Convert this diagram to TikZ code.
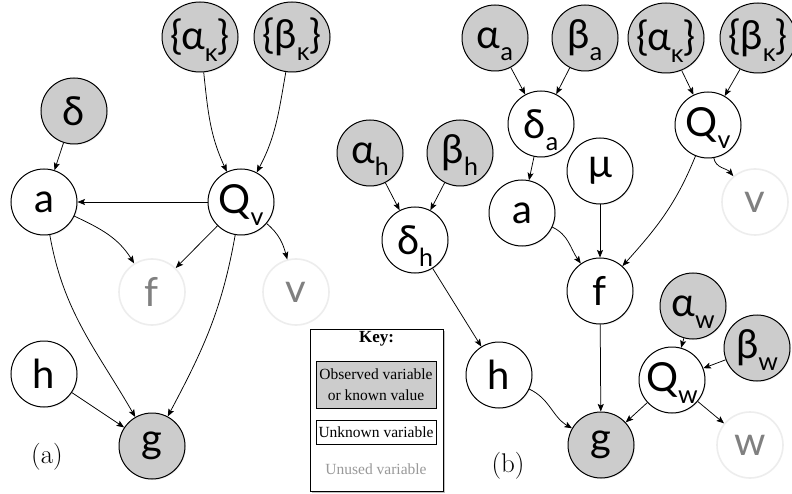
\documentclass[tikz,border=0pt]{standalone}
\usepackage{fontspec}
\newfontfamily\nodefont{Lato}
\newfontfamily\keyfont{Liberation Serif}
\usetikzlibrary{arrows.meta,shadows,shapes.geometric}
\newcommand\lsub[1]{\smash{\raisebox{-0.3em}{\fontsize{25}{25}\selectfont #1}}}
\begin{document}
\begin{tikzpicture}[x=1pt,y=1pt,
  nodetext/.style={font=\nodefont\fontsize{40}{40}\selectfont},
  var/.style={circle, draw, line width=1pt, minimum size=66pt, inner sep=0pt, fill=white, nodetext,
    drop shadow={opacity=0.15, shadow xshift=1pt, shadow yshift=-1pt}},
  obs/.style={var, fill=black!20},
  obsset/.style={obs, ellipse, minimum width=76pt, minimum height=70pt},
  unused/.style={circle, draw=black!7, line width=1.6pt, minimum size=66pt, inner sep=0pt, fill=white,
    text=black!50, nodetext},
  arr/.style={-{Stealth[length=7.5pt,width=6pt,inset=1.5pt]}, line width=0.75pt},
  keyfnt/.style={font=\keyfont\fontsize{15.5}{21}\selectfont},
  lbl/.style={font=\fontsize{27}{27}\selectfont},
]
\useasboundingbox (0,0) rectangle (792,-494);
\fill[white] (0,0) rectangle (792,-494);

% ---------- panel (a) ----------
\node[obsset] (aKa) at (200,-37) {\makebox[36pt]{\{α\lsub{κ}\}}};
\node[obsset] (bKa) at (292,-37) {\makebox[36pt]{\{β\lsub{κ}\}}};
\node[obs] (dla) at (74,-111) {δ};
\node[var] (aa) at (44,-202) {a};
\node[var] (Qva) at (241,-202) {Q\lsub{v}};
\node[unused] (fa) at (152,-292) {f};
\node[unused] (va) at (296,-292) {v};
\node[var] (ha) at (44,-374) {h};
\node[obs] (ga) at (152,-446) {g};
\node[lbl] (labA) at (47,-457) {(a)};

\draw[arr] (aKa) to[out=-84, in=115] (Qva);
\draw[arr] (bKa) to[out=-100, in=62] (Qva);
\draw[arr] (dla) -- (aa);
\draw[arr] (Qva) -- (aa);
\draw[arr] (aa) to[out=-25, in=122] (fa);
\draw[arr] (Qva) -- (fa);
\draw[arr] (Qva) to[out=-40, in=105] (va);
\draw[arr] (aa) to[out=-80, in=120] (ga);
\draw[arr] (Qva) to[out=-100, in=62] (ga);
\draw[arr] (ha) -- (ga);

% ---------- key ----------
\node[draw, line width=0.8pt, minimum width=133pt, minimum height=162pt, fill=white,
  drop shadow={opacity=0.5, shadow xshift=1.5pt, shadow yshift=-1.5pt}] (key) at (376.5,-410) {};
\node[font=\keyfont\bfseries\fontsize{17}{17}\selectfont] (keyt) at (376.5,-339) {Key:};
\node[keyfnt, draw, line width=0.8pt, fill=black!20, minimum width=120pt, minimum height=47pt,
  inner sep=0pt, align=center, drop shadow={opacity=0.4, shadow xshift=1pt, shadow yshift=-1pt}] (kobs) at (376,-384.5) {Observed variable\\or known value};
\node[keyfnt, draw, line width=0.8pt, fill=white, minimum width=120pt, minimum height=24pt,
  inner sep=0pt, drop shadow={opacity=0.4, shadow xshift=1pt, shadow yshift=-1pt}] (kunk) at (376,-432) {Unknown variable};
\node[keyfnt, text=black!40] (kuse) at (376,-469) {Unused variable};

% ---------- panel (b) ----------
\node[obs] (aA) at (495,-38) {α\lsub{a}};
\node[obs] (bA) at (585,-38) {β\lsub{a}};
\node[obsset] (aKb) at (666,-38) {\makebox[36pt]{\{α\lsub{κ}\}}};
\node[obsset] (bKb) at (758,-38) {\makebox[36pt]{\{β\lsub{κ}\}}};
\node[var] (dA) at (541,-124) {δ\lsub{a}};
\node[var] (Qvb) at (708,-125) {Q\lsub{v}};
\node[obs] (aH) at (370,-153) {α\lsub{h}};
\node[obs] (bH) at (460,-153) {β\lsub{h}};
\node[var] (mu) at (600,-171) {μ};
\node[var] (ab) at (522,-213) {a};
\node[unused] (vb) at (755,-202) {v};
\node[var] (dH) at (415,-240) {δ\lsub{h}};
\node[var] (fb) at (600,-291) {f};
\node[obs] (aW) at (693,-306) {α\lsub{w}};
\node[obs] (bW) at (757,-348) {β\lsub{w}};
\node[var] (Qw) at (672,-380) {Q\lsub{w}};
\node[var] (hb) at (499,-375) {h};
\node[obs] (gb) at (601,-445) {g};
\node[unused] (wb) at (750,-445) {w};
\node[lbl] (labB) at (508,-466) {(b)};

\draw[arr] (aA) -- (dA);
\draw[arr] (bA) -- (dA);
\draw[arr] (aKb) -- (Qvb);
\draw[arr] (bKb) -- (Qvb);
\draw[arr] (dA) -- (ab);
\draw[arr] (ab) to[out=-25, in=125] (fb);
\draw[arr] (mu) -- (fb);
\draw[arr] (Qvb) to[out=-112, in=48] (fb);
\draw[arr] (Qvb) to[out=-80, in=130] (vb);
\draw[arr] (aH) -- (dH);
\draw[arr] (bH) -- (dH);
\draw[arr] (dH) -- (hb);
\draw[arr] (fb) -- (gb);
\draw[arr] (hb) to[out=-25, in=150] (gb);
\draw[arr] (aW) -- (Qw);
\draw[arr] (bW) -- (Qw);
\draw[arr] (Qw) -- (gb);
\draw[arr] (Qw) -- (wb);
\end{tikzpicture}
\end{document}
